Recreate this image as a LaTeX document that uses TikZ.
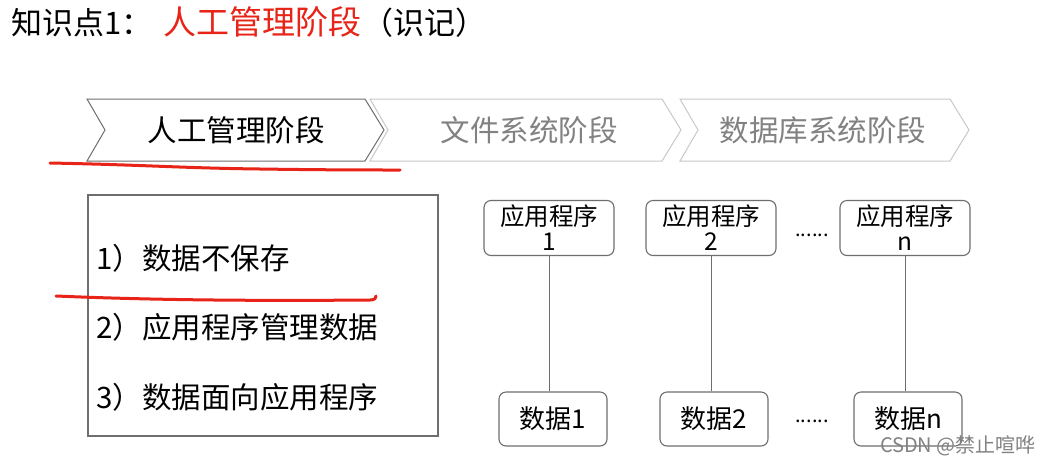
\documentclass[tikz,border=0pt]{standalone}
\usepackage{fontspec}
\setmainfont{Noto Sans CJK SC}
\definecolor{myred}{RGB}{232,36,24}
\definecolor{boxgray}{RGB}{110,110,110}
\definecolor{lightgray}{RGB}{200,200,200}
\definecolor{txtgray}{RGB}{130,130,130}
\begin{document}
\begin{tikzpicture}[x=1pt,y=-1pt,
  chevtxt/.style={font=\fontsize{29.5}{32}\selectfont, inner sep=0pt},
  listtxt/.style={font=\fontsize{29.5}{32}\selectfont, inner sep=0pt, anchor=west},
  appbox/.style={draw=boxgray, line width=1.1pt, rounded corners=7pt, minimum width=130pt, minimum height=55pt, inner sep=0pt, align=center, font=\fontsize{24.5}{26}\selectfont},
  databox/.style={draw=boxgray, line width=1.1pt, rounded corners=7pt, minimum width=108pt, minimum height=54pt, inner sep=0pt, font=\fontsize{26}{28}\selectfont},
  link/.style={draw=boxgray, line width=0.9pt},
  redmark/.style={draw=myred, line width=3pt, line cap=round, line join=round},
  dots/.style={font=\fontsize{20}{22}\selectfont, inner sep=0pt}
]
\useasboundingbox (0,0) rectangle (1048,464);
\fill[white] (0,0) rectangle (1048,464);

% title
\node[anchor=base west, inner sep=0pt, font=\fontsize{31}{33}\selectfont] (t1) at (11,34) {知识点1：};
\node[anchor=base west, inner sep=0pt, font=\fontsize{33}{35}\selectfont, text=myred] (t2) at (163,34) {人工管理阶段};
\node[anchor=base west, inner sep=0pt, font=\fontsize{31}{33}\selectfont] (t3) at (362,34) {（识记）};

% chevrons
\draw[draw=boxgray, line width=1pt, fill=white] (87,99) -- (365,99) -- (384,130) -- (365,161) -- (87,161) -- (105,130) -- cycle;
\draw[draw=lightgray, line width=1pt, fill=white] (370,99) -- (662,99) -- (681,130) -- (662,161) -- (370,161) -- (388,130) -- cycle;
\draw[draw=lightgray, line width=1pt, fill=white] (680,99) -- (950,99) -- (969,130) -- (950,161) -- (680,161) -- (698,130) -- cycle;
\node[chevtxt] (c1) at (236,130) {人工管理阶段};
\node[chevtxt, text=txtgray] (c2) at (529,130) {文件系统阶段};
\node[chevtxt, text=txtgray] (c3) at (823,130) {数据库系统阶段};

% red underline 1
\draw[redmark] (50,163) .. controls (150,165) and (180,168) .. (260,169) .. controls (330,170) and (370,170) .. (400,170);

% left box
\draw[draw=boxgray, line width=1.1pt] (88,195) rectangle (438,436);
\node[listtxt] (l1) at (96,258) {1）数据不保存};
\node[listtxt] (l2) at (96,327) {2）应用程序管理数据};
\node[listtxt] (l3) at (96,397) {3）数据面向应用程序};

% red underline 2
\draw[redmark] (56,296) .. controls (150,300) and (250,301) .. (370,300) .. controls (375,300) and (376,298) .. (376,296);

% app boxes
\node[appbox] (a1) at (549,228) {应用程序\\[-1pt]1};
\node[appbox] (a2) at (711,228) {应用程序\\[-1pt]2};
\node[appbox] (an) at (905,228) {应用程序\\[-1pt]n};
\node[dots] (d1dots) at (812,235) {......};

% data boxes
\node[databox] (b1) at (553,419) {数据1};
\node[databox] (b2) at (714,419) {数据2};
\node[databox] (bn) at (908,419) {数据n};
\node[dots] (d2dots) at (812,421) {......};

% links
\draw[link] (a1.south) -- (a1.south |- b1.north);
\draw[link] (a2.south) -- (a2.south |- b2.north);
\draw[link] (an.south) -- (an.south |- bn.north);

% watermark
\node[anchor=base east, inner sep=0pt, text=txtgray, font=\fontsize{20}{22}\selectfont] (wm) at (1036,452) {CSDN @禁止喧哗};
\end{tikzpicture}
\end{document}
